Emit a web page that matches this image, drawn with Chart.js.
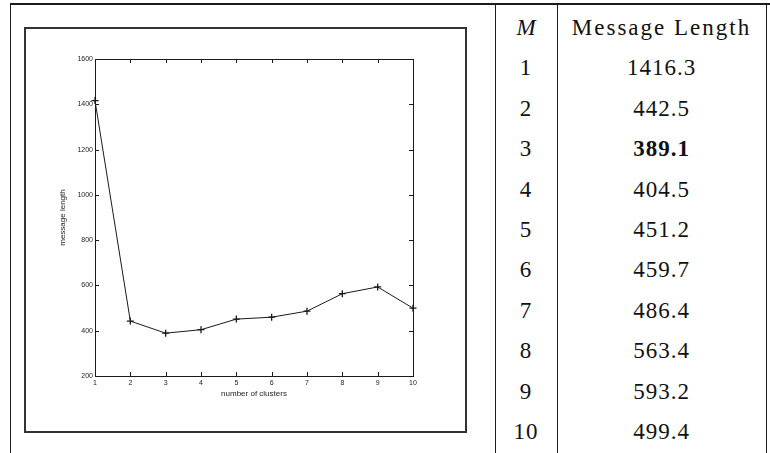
<!DOCTYPE html>
<html>
<head>
<meta charset="utf-8">
<script src="https://cdn.jsdelivr.net/npm/chart.js@4.4.1/dist/chart.umd.min.js"></script>
<style>
  html, body { margin: 0; padding: 0; background: #fff; }
  #page { position: relative; width: 770px; height: 453px; overflow: hidden; background: #fff; }
  .ln { position: absolute; background: #1c1c1c; }
  #fig { position: absolute; left: 24px; top: 27px; width: 439px; height: 402px; border: 2px solid #333; }
  #tbl { position: absolute; left: 495px; top: 8px; width: 271px; font-family: "Liberation Serif", "DejaVu Serif", serif; color: #111; }
  .row { position: absolute; left: 0; height: 40px; line-height: 40px; font-size: 23px; }
  .row .m { position: absolute; left: 0; width: 62px; text-align: center; letter-spacing: 1px; }
  .row .v { position: absolute; left: 62px; width: 209px; text-align: center; letter-spacing: 1px; }
  .row.head .m { font-style: italic; letter-spacing: 0; }
  .row.head .v { letter-spacing: 2px; }
  canvas { position: absolute; left: 0; top: 0; }
</style>
</head>
<body>
<div id="page">
  <div class="ln" style="left:10px; top:3px; width:760px; height:2px;"></div>
  <div class="ln" style="left:10px; top:3px; width:1px; height:450px;"></div>
  <div class="ln" style="left:495px; top:3px; width:1px; height:450px;"></div>
  <div class="ln" style="left:557px; top:3px; width:1px; height:450px;"></div>
  <div class="ln" style="left:766px; top:3px; width:1px; height:450px;"></div>
  <div id="fig"></div>
  <div id="tbl"></div>
  <canvas id="lengthChart" width="770" height="453"></canvas>
</div>
<script>
const clusters = [1, 2, 3, 4, 5, 6, 7, 8, 9, 10];
const messageLength = [1416.3, 442.5, 389.1, 404.5, 451.2, 459.7, 486.4, 563.4, 593.2, 499.4];
const yMin = 200;
const yMax = 1600;
const yStep = 200;
const bestM = 3;

// table on the right
var tbl = document.getElementById("tbl");
var rowH = 40.4;
var html = '<div class="row head" style="top:0px"><span class="m">M</span><span class="v">Message Length</span></div>';
clusters.forEach(function (m, i) {
  var val = messageLength[i].toFixed(1);
  if (m === bestM) val = "<b>" + val + "</b>";
  html += '<div class="row" style="top:' + (rowH * (i + 1)).toFixed(1) + 'px"><span class="m">' + m +
    '</span><span class="v">' + val + "</span></div>";
});
tbl.innerHTML = html;

var ink = "#1a1a1a";
var sans = "Liberation Sans, Arial, sans-serif";

// matlab style box with inward ticks on all four sides
var boxTicks = {
  id: "boxTicks",
  afterDraw: function (chart) {
    var ctx = chart.ctx;
    var a = chart.chartArea;
    var xs = chart.scales.x;
    var ys = chart.scales.y;
    var len = 4;
    ctx.save();
    ctx.strokeStyle = ink;
    ctx.lineWidth = 1;
    ctx.strokeRect(Math.round(a.left) + 0.5, Math.round(a.top) + 0.5,
      Math.round(a.right - a.left), Math.round(a.bottom - a.top));
    ctx.beginPath();
    xs.ticks.forEach(function (t, i) {
      var px = Math.round(xs.getPixelForTick(i)) + 0.5;
      ctx.moveTo(px, a.bottom);
      ctx.lineTo(px, a.bottom - len);
      ctx.moveTo(px, a.top);
      ctx.lineTo(px, a.top + len);
    });
    ys.ticks.forEach(function (t) {
      var py = Math.round(ys.getPixelForValue(t.value)) + 0.5;
      ctx.moveTo(a.left, py);
      ctx.lineTo(a.left + len, py);
      ctx.moveTo(a.right, py);
      ctx.lineTo(a.right - len, py);
    });
    ctx.stroke();
    ctx.restore();
  },
};

new Chart("lengthChart", {
  type: "line",
  data: {
    labels: clusters,
    datasets: [
      {
        data: messageLength,
        borderColor: ink,
        borderWidth: 1,
        pointStyle: "cross",
        pointRadius: 3.5,
        pointBorderColor: ink,
        pointBorderWidth: 1.3,
        tension: 0,
        fill: false,
        clip: false,
      },
    ],
  },
  plugins: [boxTicks],
  options: {
    responsive: false,
    animation: false,
    devicePixelRatio: 1,
    layout: { padding: { left: 58, top: 59, right: 357, bottom: 54 } },
    plugins: {
      legend: { display: false },
      tooltip: { enabled: false },
    },
    scales: {
      x: {
        type: "category",
        offset: false,
        grid: { display: false, drawTicks: false },
        border: { display: false },
        ticks: {
          color: ink,
          padding: 3,
          maxRotation: 0,
          font: { family: sans, size: 7 },
        },
        title: {
          display: true,
          text: "number of clusters",
          color: ink,
          padding: 0,
          font: { family: sans, size: 8 },
        },
        afterFit: function (scale) { scale.height = 23; },
      },
      y: {
        min: yMin,
        max: yMax,
        grid: { display: false, drawTicks: false },
        border: { display: false },
        ticks: {
          stepSize: yStep,
          color: ink,
          padding: 2,
          font: { family: sans, size: 7 },
          callback: function (v) { return String(v); },
        },
        title: {
          display: true,
          text: "message length",
          color: ink,
          padding: 0,
          font: { family: sans, size: 8 },
        },
        afterFit: function (scale) { scale.width = 37; },
      },
    },
  },
});
</script>
</body>
</html>
